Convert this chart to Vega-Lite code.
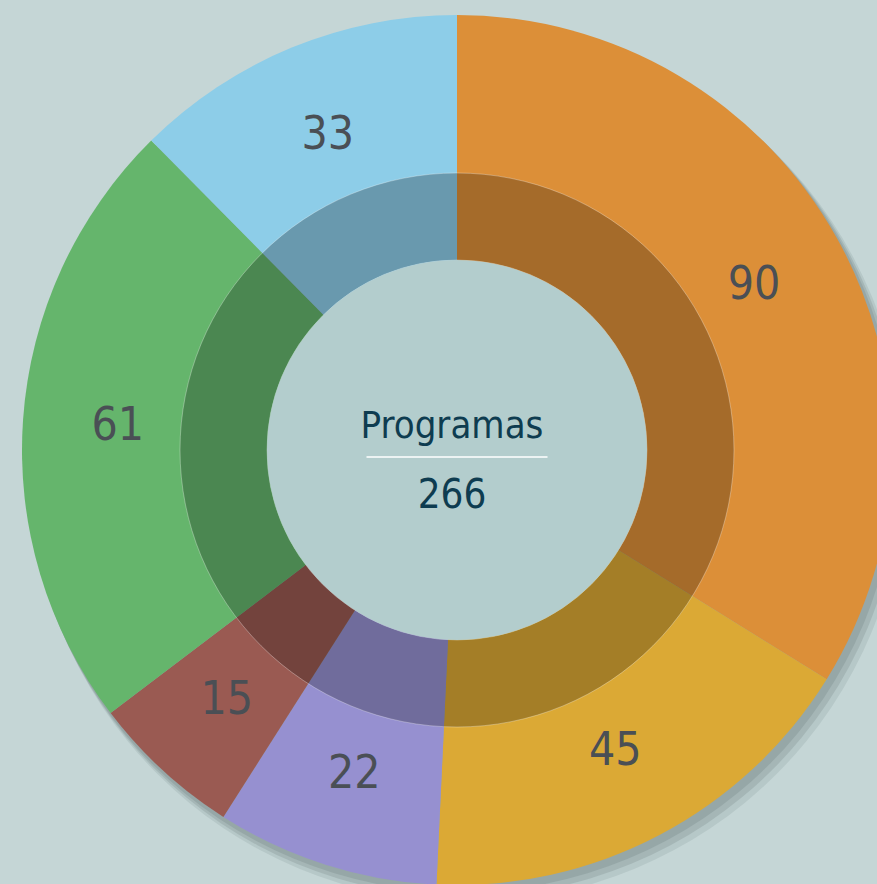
{
  "$schema": "https://vega.github.io/schema/vega-lite/v6.json",
  "width": 840,
  "height": 868,
  "autosize": {"type": "none"},
  "padding": {"left": 37, "top": 16, "right": 0, "bottom": 0},
  "background": "#c5d6d6",
  "config": {"view": {"stroke": null}},
  "datasets": {
    "prog": [
      {"categoria": "A", "valor": 90, "orden": 1},
      {"categoria": "B", "valor": 45, "orden": 2},
      {"categoria": "C", "valor": 22, "orden": 3},
      {"categoria": "D", "valor": 15, "orden": 4},
      {"categoria": "E", "valor": 61, "orden": 5},
      {"categoria": "F", "valor": 33, "orden": 6}
    ],
    "centro": [{"titulo": "Programas", "total": 266}]
  },
  "layer": [
    {
      "data": {"name": "centro"},
      "mark": {"type": "arc", "theta": 0, "theta2": 6.2832, "radius": 438, "radius2": 0, "fill": "#7f9090", "opacity": 0.2, "xOffset": 10, "yOffset": 14},
      "encoding": {}
    },
    {
      "data": {"name": "centro"},
      "mark": {"type": "arc", "theta": 0, "theta2": 6.2832, "radius": 437, "radius2": 0, "fill": "#7f9090", "opacity": 0.3, "xOffset": 7, "yOffset": 10},
      "encoding": {}
    },
    {
      "data": {"name": "centro"},
      "mark": {"type": "arc", "theta": 0, "theta2": 6.2832, "radius": 436, "radius2": 0, "fill": "#7f9090", "opacity": 0.4, "xOffset": 4, "yOffset": 6},
      "encoding": {}
    },
    {
      "data": {"name": "prog"},
      "mark": {"type": "arc", "radius": 435, "radius2": 0},
      "encoding": {
        "theta": {"field": "valor", "type": "quantitative", "stack": true},
        "order": {"field": "orden", "type": "quantitative"},
        "color": {
          "field": "categoria", "type": "nominal", "legend": null,
          "scale": {"domain": ["A", "B", "C", "D", "E", "F"], "range": ["#dc8f38", "#dba935", "#9690d0", "#9a5a52", "#65b56c", "#8dcde8"]}
        }
      }
    },
    {
      "data": {"name": "centro"},
      "mark": {"type": "arc", "theta": 0, "theta2": 6.2832, "radius": 277, "radius2": 190, "fill": "#000000", "fillOpacity": 0.25, "stroke": "#ffffff", "strokeOpacity": 0.3, "strokeWidth": 1},
      "encoding": {}
    },
    {
      "data": {"name": "centro"},
      "mark": {"type": "arc", "theta": 0, "theta2": 6.2832, "radius": 190, "radius2": 0, "fill": "#b3cdcd"},
      "encoding": {}
    },
    {
      "data": {"name": "prog"},
      "mark": {"type": "text", "radius": 340, "font": "DejaVu Sans Condensed, Roboto Condensed, Roboto", "fontWeight": 300, "fontSize": 46, "fill": "#4a4f55", "baseline": "middle", "align": "center"},
      "encoding": {
        "theta": {"field": "valor", "type": "quantitative", "stack": true},
        "order": {"field": "orden", "type": "quantitative"},
        "text": {"field": "valor", "type": "quantitative"}
      }
    },
    {
      "data": {"name": "centro"},
      "mark": {"type": "text", "font": "DejaVu Sans Condensed, Roboto Condensed, Roboto", "fontWeight": 300, "fontSize": 38, "fill": "#0e3c50", "baseline": "alphabetic", "align": "center", "dy": -12, "dx": -5},
      "encoding": {"text": {"field": "titulo", "type": "nominal"}}
    },
    {
      "data": {"name": "centro"},
      "mark": {"type": "text", "font": "DejaVu Sans Condensed, Roboto Condensed, Roboto", "fontWeight": 300, "fontSize": 40, "fill": "#0e3c50", "baseline": "alphabetic", "align": "center", "dy": 58, "dx": -5},
      "encoding": {"text": {"field": "total", "type": "quantitative"}}
    },
    {
      "data": {"name": "centro"},
      "mark": {"type": "rule", "stroke": "#ffffff", "strokeWidth": 1.5},
      "encoding": {
        "x": {"datum": -0.2155, "type": "quantitative", "scale": {"domain": [-1, 1]}, "axis": null},
        "x2": {"datum": 0.2155},
        "y": {"datum": -0.016, "type": "quantitative", "scale": {"domain": [-1, 1]}, "axis": null}
      }
    }
  ]
}
